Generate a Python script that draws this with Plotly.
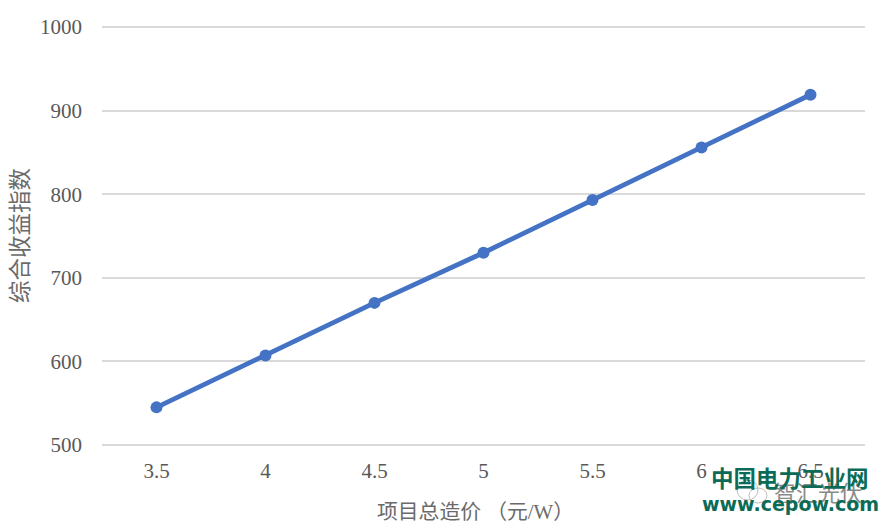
import plotly.graph_objects as go

categories = ["3.5", "4", "4.5", "5", "5.5", "6", "6.5"]
index_values = [545, 607, 670, 730, 793, 856, 919]
y_ticks = [500, 600, 700, 800, 900, 1000]
y_range = [497.6, 1002.4]
x_title = "项目总造价 （元/W）"
y_title = "综合收益指数"
wm_cn = "中国电力工业网"
wm_url = "www.cepow.com"
wm_gray = "智汇光伏"

SERIF = "Liberation Serif, Noto Sans CJK SC, serif"
SANS = "Noto Sans CJK SC, sans-serif"

# the page keeps an 8 px body margin, so the figure is 8 px smaller than the window
W, H = 882, 524
# plot area in window pixels; 2 px of padding so the end gridlines are not dropped
PX0, PXW, PY0, PYH = 102, 763, 447, 422

def px(x):
    return (x - PX0) / PXW

def py(y):
    return (PY0 - y) / PYH

def circle(x0, y0, x1, y1):
    return dict(type="circle", xref="paper", yref="paper", x0=px(x0), x1=px(x1), y0=py(y1), y1=py(y0),
                line=dict(color="#BDBDBD", width=1), fillcolor="rgba(255,255,255,0)")

fig = go.Figure(go.Scatter(
    x=categories, y=index_values, mode="lines+markers",
    line=dict(color="#4472C4", width=4.8),
    marker=dict(color="#4472C4", size=12),
    showlegend=False, cliponaxis=False,
))
fig.update_layout(
    width=W, height=H,
    margin=dict(l=94, r=25, t=17, b=85, autoexpand=False),
    paper_bgcolor="white", plot_bgcolor="white",
    font=dict(family=SERIF, color="#595959", size=21),
    xaxis=dict(type="category", range=[-0.5, 6.5], showgrid=False, showline=False,
               ticks="", tickfont=dict(size=21, color="#595959"), ticklabelstandoff=9),
    yaxis=dict(range=y_range, tickvals=y_ticks, showgrid=True, gridcolor="#D9D9D9",
               gridwidth=2, zeroline=False, showline=False, ticks="", ticklabelstandoff=19,
               tickfont=dict(size=21, color="#595959")),
    shapes=[circle(737, 480, 758, 500), circle(749, 488, 767, 503)],
    annotations=[
        dict(text=x_title, xref="paper", yref="paper", x=px(475), y=py(511),
             xanchor="center", yanchor="middle", showarrow=False,
             font=dict(size=20.8, color="#6A6A6A", family=SERIF)),
        dict(text=y_title, xref="paper", yref="paper", x=px(20), y=py(236),
             xanchor="center", yanchor="middle", showarrow=False, textangle=-90,
             font=dict(size=22.5, color="#6A6A6A", family=SERIF)),
        dict(text=wm_gray, xref="paper", yref="paper", x=px(818), y=py(491),
             xanchor="center", yanchor="middle", showarrow=False,
             font=dict(size=22, color="#8A8A8A", family=SANS)),
        dict(text=f"<b>{wm_cn}</b>", xref="paper", yref="paper", x=px(790), y=py(477),
             xanchor="center", yanchor="middle", showarrow=False,
             font=dict(size=22.5, color="#0B6B57", family=SANS)),
        dict(text=f"<b>{wm_url}</b>", xref="paper", yref="paper", x=px(790), y=py(504),
             xanchor="center", yanchor="middle", showarrow=False,
             font=dict(size=19, color="#0B6B57", family="DejaVu Sans")),
    ],
)
fig.write_html("out.html")
